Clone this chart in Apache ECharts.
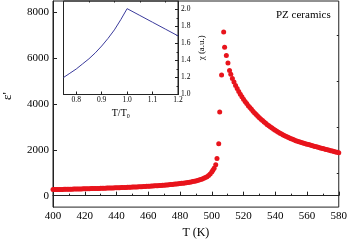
<!DOCTYPE html>
<html><head><meta charset="utf-8">
<script src="https://cdn.jsdelivr.net/npm/echarts@6/dist/echarts.min.js"></script>
<style>html,body{margin:0;padding:0;background:#fff}#c{width:350px;height:244px}</style>
</head><body><div id="c"></div>
<script>
// Main data: temperature (K) and dielectric permittivity
const tempK = [400,401,402,403,404,405,406,407,408,409,410,411,412,413,414,415,416,417,418,419,420,421,422,423,424,425,426,427,428,429,430,431,432,433,434,435,436,437,438,439,440,441,442,443,444,445,446,447,448,449,450,451,452,453,454,455,456,457,458,459,460,461,462,463,464,465,466,467,468,469,470,471,472,473,474,475,476,477,478,479,480,481,482,483,484,485,486,487,488,489,490,491,492,493,494,495,496,497,498,499,500,500.7,501.5,502.5,503.3,504.4,505,506.2,507.5,508.1,509.2,510.2,511.2,512,513,514,515,516,517,518,519,520,521,522,523,524,525,526,527,528,529,530,531,532,533,534,535,536,537,538,539,540,541,542,543,544,545,546,547,548,549,550,551,552,553,554,555,556,557,558,559,560,561,562,563,564,565,566,567,568,569,570,571,572,573,574,575,576,577,578,579,580];
const epsilon = [265,266,268,269,271,272,274,275,277,278,280,282,284,285,287,289,291,293,295,297,299,301,303,305,307,309,311,313,315,317,320,322,324,326,329,331,334,336,339,341,344,346,349,352,355,358,361,364,367,370,373,376,380,383,387,390,394,398,402,406,410,414,418,422,427,432,437,442,447,452,458,464,470,476,483,490,497,504,512,520,528,537,546,556,566,577,588,601,614,629,645,663,682,704,728,757,790,830,880,945,1030,1110,1200,1350,1620,2270,3650,5270,7145,6480,6120,5790,5470,5300,5120,4960,4810,4680,4550,4430,4320,4210,4110,4020,3930,3850,3770,3690,3610,3540,3470,3400,3340,3280,3220,3160,3100,3050,3000,2950,2900,2860,2810,2770,2730,2690,2650,2620,2580,2550,2520,2490,2460,2430,2400,2380,2350,2330,2310,2290,2270,2250,2230,2210,2190,2170,2150,2130,2110,2090,2075,2060,2040,2020,2000,1980,1965,1950,1930,1910,1890,1870];
// Inset data: reduced temperature and chi
const tRatio = [0.75,0.775,0.8,0.825,0.85,0.875,0.9,0.925,0.95,0.975,1.0,1.05,1.1,1.15,1.2];
const chi = [1.20,1.25,1.30,1.36,1.42,1.49,1.57,1.66,1.76,1.88,2.01,1.93,1.85,1.77,1.69];
// Tick labels
const mainYTicks = [0,2000,4000,6000,8000];
const mainYMinor = [1000,3000,5000,7000];
const insetXTicks = [0.8,0.9,1.0,1.1,1.2];
const insetXMinor = [0.85,0.95,1.05,1.15];
const insetYTicks = [1.0,1.2,1.4,1.6,1.8,2.0];
const insetYMinor = [1.1,1.3,1.5,1.7,1.9];

const FONT = '"Liberation Serif", "DejaVu Serif", serif';
const AX = '#222';
const chart = echarts.init(document.getElementById('c'), null, {renderer:'canvas'});
const mainPts = tempK.map((t,i)=>[t, epsilon[i]]);
const insetPts = tRatio.map((t,i)=>[t, chi[i]]);

chart.setOption({
  animation:false,
  backgroundColor:'#fff',
  grid:[
    {left:53, right:9, top:1, bottom:31, show:true, borderColor:AX, borderWidth:1},
    {left:63.5, width:114.5, top:1, height:93.5, show:true, borderColor:AX, borderWidth:1}
  ],
  xAxis:[
    {gridIndex:0, type:'value', min:400, max:580, interval:20,
      name:'T (K)', nameLocation:'middle', nameGap:18,
      nameTextStyle:{fontFamily:FONT, fontSize:12, color:'#000', verticalAlign:'top'},
      axisLine:{lineStyle:{color:AX, width:1}},
      axisTick:{inside:true, length:4, lineStyle:{color:AX}},
      minorTick:{show:true, splitNumber:2, length:2, lineStyle:{color:AX}},
      axisLabel:{fontFamily:FONT, fontSize:11, color:'#000', margin:4},
      splitLine:{show:false}},
    {gridIndex:1, type:'value', min:0.75, max:1.2,
      name:'T/T{s|0}', nameLocation:'middle', nameGap:13,
      nameTextStyle:{fontFamily:FONT, fontSize:10, color:'#000', verticalAlign:'top',
        rich:{s:{fontFamily:FONT, fontSize:6, color:'#000', verticalAlign:'bottom', padding:[6,0,0,0]}}},
      axisLine:{lineStyle:{color:AX, width:1}},
      axisTick:{inside:true, length:3, customValues:insetXTicks, lineStyle:{color:AX}},
      axisLabel:{fontFamily:FONT, fontSize:7.5, color:'#000', margin:2, customValues:insetXTicks,
        formatter:v=>Number(v).toFixed(1)},
      splitLine:{show:false}},
    {gridIndex:1, type:'value', min:0.75, max:1.2, show:true,
      axisLine:{show:false},
      axisTick:{inside:true, length:1.5, customValues:insetXMinor, lineStyle:{color:AX}},
      axisLabel:{show:false}, splitLine:{show:false}}
  ],
  yAxis:[
    {gridIndex:0, type:'value', min:-500, max:8500,
      axisLine:{show:true, lineStyle:{color:AX, width:1}},
      axisTick:{show:true, inside:true, length:4, customValues:mainYTicks, lineStyle:{color:AX}},
      axisLabel:{fontFamily:FONT, fontSize:11, color:'#000', margin:4, customValues:mainYTicks,
        formatter:v=>String(Math.round(v))},
      splitLine:{show:false}},
    {gridIndex:0, type:'value', min:-500, max:8500,
      axisLine:{show:false},
      axisTick:{show:true, inside:true, length:2, customValues:mainYMinor, lineStyle:{color:AX}},
      axisLabel:{show:false}, splitLine:{show:false}},
    {gridIndex:1, type:'value', min:1.0, max:2.1, position:'right',
      name:'χ (a.u.)', nameLocation:'middle', nameGap:19, nameRotate:90,
      nameTextStyle:{fontFamily:FONT, fontSize:9, color:'#000'},
      axisLine:{show:true, lineStyle:{color:AX, width:1}},
      axisTick:{show:true, inside:true, length:3, customValues:insetYTicks, lineStyle:{color:AX}},
      axisLabel:{fontFamily:FONT, fontSize:7.5, color:'#000', margin:3, customValues:insetYTicks,
        formatter:v=>Number(v).toFixed(1)},
      splitLine:{show:false}},
    {gridIndex:1, type:'value', min:1.0, max:2.1, position:'right',
      axisLine:{show:false},
      axisTick:{show:true, inside:true, length:1.5, customValues:insetYMinor, lineStyle:{color:AX}},
      axisLabel:{show:false}, splitLine:{show:false}}
  ],
  graphic:[
    {type:'text', left:276, top:10, style:{text:'PZ ceramics', font:'11px '+FONT, fill:'#000'}},
    {type:'text', x:1, y:100, rotation:Math.PI/2, style:{text:"ε'", font:'13px '+FONT, fill:'#000', verticalAlign:'top'}}
  ],
  series:[
    {type:'scatter', xAxisIndex:0, yAxisIndex:0, data:mainPts, symbol:'circle', symbolSize:5,
      itemStyle:{color:'#e8141c', opacity:1}},
    {type:'line', xAxisIndex:1, yAxisIndex:2, data:insetPts, showSymbol:false, smooth:false,
      lineStyle:{color:'#3b3b9c', width:1}}
  ]
});
</script></body></html>
